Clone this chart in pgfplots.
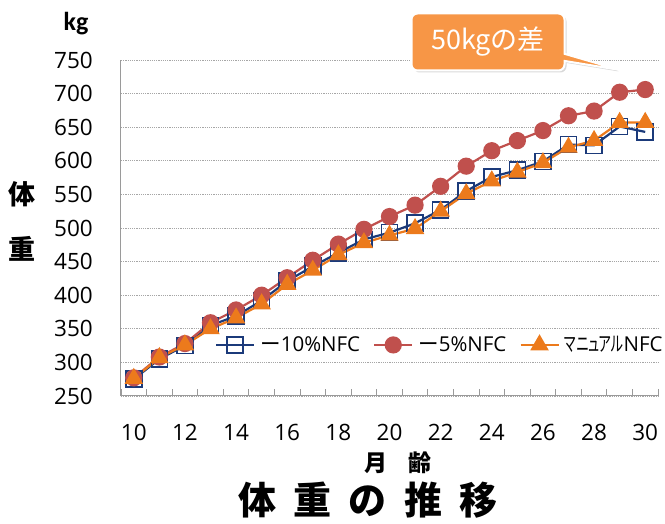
\documentclass[border=0pt]{standalone}
\usepackage{fontspec}
\usepackage{graphicx}
\usepackage{pgfplots}
\pgfplotsset{compat=1.18}
\usetikzlibrary{shapes.callouts,shadows}
\setmainfont{Open Sans}
\newfontfamily\cjk{Noto Sans CJK JP}
\newfontfamily\cjkp{Noto Sans CJK JP}[RawFeature=+palt]
\newfontfamily\kgfont{Carlito}
\definecolor{navyc}{HTML}{1B3A7A}
\definecolor{redc}{HTML}{C0504D}
\definecolor{orangec}{HTML}{EC7A1C}
\definecolor{calloutc}{HTML}{F79646}
\definecolor{gridc}{HTML}{A6A6A6}
\definecolor{axisc}{HTML}{9A9A9A}

\pgfplotstableread{
x  a   b   c
10 275 277 276
11 305 308 307
12 325 328 326
13 355 359 350
14 369 378 366
15 392 400 387
16 421 426 416
17 443 452 437
18 463 476 460
19 483 498 478
20 493 517 489
21 507 534 499
22 527 562 525
23 555 592 551
24 576 615 570
25 586 630 583
26 599 645 597
27 624 667 620
28 623 674 630
29 651 702 657
30 643 706 657
}\datatable

\begin{document}
\begin{tikzpicture}[x=1pt,y=1pt]
\useasboundingbox (0,0) rectangle (665,524);
\begin{axis}[
  at={(121pt,128pt)}, anchor=south west,
  scale only axis, width=537pt, height=336pt,
  xmin=9.5, xmax=30.5, ymin=250, ymax=750,
  axis x line=bottom, axis y line=left,
  axis line style={-, draw=axisc, line width=1pt},
  xtick={10,12,...,30},
  minor xtick={9.5,10.5,...,30.5},
  ytick={250,300,...,750},
  major tick length=0pt, minor tick length=7pt, tick align=inside,
  minor tick style={draw=axisc, line width=0.8pt},
  ymajorgrids, xmajorgrids=false,
  major grid style={gridc, dash pattern=on 1.2pt off 1pt, line width=0.8pt},
  tick label style={font=\fontsize{22.5}{22.5}\selectfont},
  /pgf/number format/assume math mode=true,
  yticklabel style={anchor=east, inner sep=0pt, xshift=-28pt},
  xticklabel style={anchor=north, inner sep=0pt, yshift=-28pt},
  legend columns=3,
  legend style={draw=none, fill=none, at={(0.175,0.152)}, anchor=west,
    font=\fontsize{20.5}{20.5}\selectfont, column sep=3pt, inner xsep=0pt,
    /tikz/every even column/.append style={column sep=11pt}},
  legend image code/.code={\draw[mark repeat=2,mark phase=2,#1] plot coordinates {(0pt,0pt) (19pt,0pt) (38pt,0pt)};},
]
\addplot[navyc, line width=2.2pt, mark=square, mark size=8pt, mark options={solid, line width=1.6pt}] table[x=x,y=a]{\datatable};
\addlegendentry{{\cjk ー}10\%NFC}
\addplot[redc, line width=2.2pt, mark=*, mark size=7.5pt, mark options={solid, fill=redc}] table[x=x,y=b]{\datatable};
\addlegendentry{{\cjk ー}5\%NFC}
\addplot[orangec, line width=2.2pt, mark=triangle*, mark size=8.5pt, mark options={solid, fill=orangec}] table[x=x,y=c]{\datatable};
\addlegendentry{\scalebox{0.64}[1]{\cjkp マニュアル}NFC}
\end{axis}
\node[font=\kgfont\bfseries\fontsize{26}{26}\selectfont] at (76,500) {kg};
\node[font=\cjk\bfseries\fontsize{27}{27}\selectfont] at (22,330) {体};
\node[font=\cjk\bfseries\fontsize{27}{27}\selectfont] at (22,275) {重};
\node[font=\cjk\bfseries\fontsize{23}{23}\selectfont] at (398,61) {月\hspace{0.9em}齢};
\node[font=\cjk\bfseries\fontsize{38}{38}\selectfont] at (368,24) {体\hspace{0.45em}重\hspace{0.45em}の\hspace{0.45em}推\hspace{0.45em}移};
\node[rectangle callout, rounded corners=6pt, fill=calloutc, draw=white, line width=2pt,
  drop shadow={opacity=0.3, shadow xshift=2pt, shadow yshift=-2pt},
  minimum width=153pt, minimum height=57pt, callout absolute pointer={(620,454)},
  text=white, font=\cjk\fontsize{27}{27}\selectfont] at (488,482) {50kgの差};
\end{tikzpicture}
\end{document}
